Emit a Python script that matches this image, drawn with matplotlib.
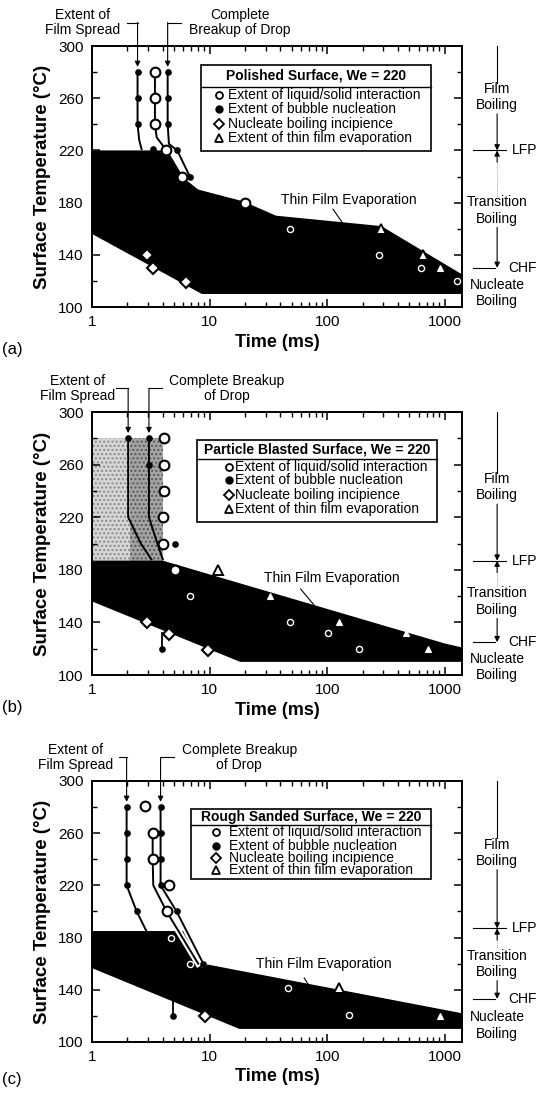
import numpy as np
import matplotlib
matplotlib.use('Agg')
import matplotlib.pyplot as plt
from matplotlib.patches import Rectangle
from matplotlib.ticker import MultipleLocator, LogLocator, NullFormatter
import matplotlib.patheffects as pe

plt.rcParams['font.family'] = ['Liberation Sans', 'DejaVu Sans']

# ---- values ----
YTICKS = [100, 140, 180, 220, 260, 300]
XTICKS = [1, 10, 100, 1000]
XTICK_LABELS = ['1', '10', '100', '1000']
LEGEND_LABELS = ['Extent of liquid/solid interaction', 'Extent of bubble nucleation',
                 'Nucleate boiling incipience', 'Extent of thin film evaporation']
TITLES = ['Polished Surface, We = 220', 'Particle Blasted Surface, We = 220',
          'Rough Sanded Surface, We = 220']
TAGS = ['(a)', '(b)', '(c)']
LFP = [220, 187, 187]
CHF = [130, 125, 133]

# (a) polished
A_TOP_X = [1, 4.2, 5.8, 8.0, 19.3, 36.7, 289, 1400]
A_TOP_Y = [220, 220, 200, 190, 181, 170, 162, 125]
A_BOT_X = [1, 8.6, 1400]
A_BOT_Y = [156, 110, 110]
A_SPREAD_X = [2.44, 2.44, 2.44, 2.52, 2.64]
A_SPREAD_Y = [280, 260, 240, 228, 221]
A_BREAK_X = [4.4, 4.4, 4.4, 4.51, 5.31, 6.79]
A_BREAK_Y = [280, 260, 240, 225, 220, 200]
A_LIQL_X = [3.43, 3.43, 3.43, 3.55, 4.3, 5.8]
A_LIQL_Y = [280, 260, 240, 230, 220, 200]
A_BUB_X = [2.44, 2.44, 2.44, 4.4, 4.4, 4.4, 3.32, 5.31, 6.79]
A_BUB_Y = [280, 260, 240, 280, 260, 240, 221, 220, 200]
A_LIQ_X = [3.43, 3.43, 3.43, 4.3, 5.8, 20]
A_LIQ_Y = [280, 260, 240, 220, 200, 180]
A_LIQIN_X = [48, 276, 628, 1259]
A_LIQIN_Y = [160, 140, 130, 120]
A_DIA_X = [2.91, 3.33, 6.3]
A_DIA_Y = [140, 130, 119]
A_TRI_X = [289, 650]
A_TRI_Y = [160, 140]
A_TRIIN_X = [912]
A_TRIIN_Y = [130]

# (b) particle blasted
B_GRAY_X = [1, 4.0]
B_DARK_X = [2.1, 4.0]
B_GRAY_Y = [187, 280]
B_TOP_X = [1, 4.0, 1000, 1400]
B_TOP_Y = [187, 187, 124, 121]
B_BOT_X = [1, 18.2, 1400]
B_BOT_Y = [156, 110, 110]
B_SPREAD_X = [2.03, 2.03, 2.03, 2.03, 2.6, 3.2]
B_SPREAD_Y = [280, 260, 240, 220, 200, 188]
B_BREAK_X = [3.05, 3.05, 3.05, 3.05, 3.6, 4.0]
B_BREAK_Y = [280, 260, 240, 220, 200, 188]
B_LIQL_X = []
B_LIQL_Y = []
B_STEM_X = [3.94, 3.94]
B_STEM_Y = [120, 132]
B_BUB_X = [2.03, 3.05, 3.05, 5.06, 3.94]
B_BUB_Y = [280, 280, 260, 200, 120]
B_LIQ_X = [4.13, 4.13, 4.13, 4.05, 4.05, 5.06]
B_LIQ_Y = [280, 260, 240, 220, 200, 180]
B_LIQIN_X = [6.76, 48, 100.7, 187.6]
B_LIQIN_Y = [160, 140, 132, 120]
B_DIA_X = [2.95, 4.51, 9.6]
B_DIA_Y = [140, 131, 119]
B_TRI_X = [11.8]
B_TRI_Y = [180]
B_TRIIN_X = [32.4, 125, 467, 724]
B_TRIIN_Y = [160, 140, 132, 120]

# (c) rough sanded
C_TOP_X = [1, 6.4, 8.8, 1400]
C_TOP_Y = [185, 185, 160, 122]
C_BOT_X = [1, 17.9, 1400]
C_BOT_Y = [156.6, 110, 110]
C_SPREAD_X = [1.97, 1.97, 1.97, 1.97, 2.4, 2.9]
C_SPREAD_Y = [280, 260, 240, 220, 200, 185]
C_BREAK_X = [3.83, 3.83, 3.83, 3.83, 5.24, 8.84]
C_BREAK_Y = [280, 260, 240, 220, 200, 160]
C_LIQL_X = [3.28, 3.28, 3.32, 4.31, 8.0]
C_LIQL_Y = [260, 240, 220, 200, 160]
C_STEM_X = [4.92, 4.92]
C_STEM_Y = [120, 140]
C_BUB_X = [1.97, 1.97, 1.97, 1.97, 2.4, 3.83, 3.83, 3.83, 3.83, 5.24, 8.84, 4.92]
C_BUB_Y = [280, 260, 240, 220, 200, 280, 260, 240, 220, 200, 160, 120]
C_LIQ_X = [2.82, 3.28, 3.28, 4.54, 4.31]
C_LIQ_Y = [281, 260, 240, 220, 200]
C_LIQIN_X = [4.66, 6.75, 46.8, 153]
C_LIQIN_Y = [180, 160, 141.5, 121]
C_DIA_X = [9.16]
C_DIA_Y = [120]
C_TRI_X = [127]
C_TRI_Y = [141]
C_TRIIN_X = [910]
C_TRIIN_Y = [120]

panels = [
    dict(top=(A_TOP_X, A_TOP_Y), bot=(A_BOT_X, A_BOT_Y), spread=(A_SPREAD_X, A_SPREAD_Y),
         brk=(A_BREAK_X, A_BREAK_Y), liql=(A_LIQL_X, A_LIQL_Y), stem=None,
         bub=(A_BUB_X, A_BUB_Y), liq=(A_LIQ_X, A_LIQ_Y), liqin=(A_LIQIN_X, A_LIQIN_Y),
         dia=(A_DIA_X, A_DIA_Y), tri=(A_TRI_X, A_TRI_Y), triin=(A_TRIIN_X, A_TRIIN_Y)),
    dict(top=(B_TOP_X, B_TOP_Y), bot=(B_BOT_X, B_BOT_Y), spread=(B_SPREAD_X, B_SPREAD_Y),
         brk=(B_BREAK_X, B_BREAK_Y), liql=(B_LIQL_X, B_LIQL_Y), stem=(B_STEM_X, B_STEM_Y),
         bub=(B_BUB_X, B_BUB_Y), liq=(B_LIQ_X, B_LIQ_Y), liqin=(B_LIQIN_X, B_LIQIN_Y),
         dia=(B_DIA_X, B_DIA_Y), tri=(B_TRI_X, B_TRI_Y), triin=(B_TRIIN_X, B_TRIIN_Y)),
    dict(top=(C_TOP_X, C_TOP_Y), bot=(C_BOT_X, C_BOT_Y), spread=(C_SPREAD_X, C_SPREAD_Y),
         brk=(C_BREAK_X, C_BREAK_Y), liql=(C_LIQL_X, C_LIQL_Y), stem=(C_STEM_X, C_STEM_Y),
         bub=(C_BUB_X, C_BUB_Y), liq=(C_LIQ_X, C_LIQ_Y), liqin=(C_LIQIN_X, C_LIQIN_Y),
         dia=(C_DIA_X, C_DIA_Y), tri=(C_TRI_X, C_TRI_Y), triin=(C_TRIIN_X, C_TRIIN_Y)),
]

# layout (figure fractions) and per-panel text placement
axes_rects = [[0.1694, 0.7191, 0.6814, 0.2388],
              [0.1694, 0.3824, 0.6814, 0.2406],
              [0.1694, 0.0467, 0.6814, 0.2388]]
legend_boxes = [(0.294, 0.916, 0.597, 0.928, 0.842, 0.344, 0.367, [0.886, 0.813, 0.759, 0.703, 0.648]),
                (0.285, 0.933, 0.581, 0.893, 0.820, 0.371, 0.387, [0.857, 0.792, 0.740, 0.686, 0.633]),
                (0.268, 0.916, 0.623, 0.893, 0.830, 0.336, 0.371, [0.862, 0.803, 0.752, 0.704, 0.657])]
top_labels = [(0.83, 'Extent of\nFilm Spread', 1.97, 2.44, 18.1, 'Complete\nBreakup of Drop', 5.67, 4.4),
              (0.75, 'Extent of\nFilm Spread', 1.6, 2.03, 13.9, 'Complete Breakup\nof Drop', 3.94, 3.05),
              (0.73, 'Extent of\nFilm Spread', 1.71, 1.97, 17.9, 'Complete Breakup\nof Drop', 4.97, 3.83)]
regime_y = [(261, 174, 111), (243, 156, 106), (245, 160, 112.6)]
tfe_labels = [(152, 182, 112, 175, 137, 163.6),
              (109, 174, 59.5, 165.4, 78, 152.8),
              (93.7, 159.6, 63.7, 149, 70.6, 142.7)]
tag_y = [0.680, 0.3525, 0.0122]

fig = plt.figure(figsize=(5.43, 10.93), dpi=100)

for i, p in enumerate(panels):
    ax = fig.add_axes(axes_rects[i])
    ax.set_xscale('log')
    ax.set_xlim(1, 1400)
    ax.set_ylim(100, 300)

    # stippled region of panel (b)
    if i == 1:
        ax.fill_between(B_GRAY_X, B_GRAY_Y[0], B_GRAY_Y[1], facecolor='#d6d6d6',
                        edgecolor='#8a8a8a', hatch='....', lw=0, zorder=0.5)
        ax.fill_between(B_DARK_X, B_GRAY_Y[0], B_GRAY_Y[1], facecolor='#a4a4a4',
                        edgecolor='#555555', hatch='....', lw=0, zorder=0.6)

    # thin film evaporation region
    tx, ty = p['top']
    bx, by = p['bot']
    ax.fill(np.r_[tx, bx[::-1]], np.r_[ty, by[::-1]], color='black', lw=0, zorder=1)

    halo = [pe.withStroke(linewidth=4.5, foreground='white')] if i == 2 else None
    for key in ('spread', 'brk', 'liql'):
        lx, ly = p[key]
        if len(lx):
            ax.plot(lx, ly, color='black', lw=1.4, zorder=3,
                    path_effects=None if key == 'spread' else halo)
    if p['stem'] is not None:
        ax.plot(*p['stem'], color='black', lw=1.3, zorder=3)

    ax.plot(*p['bub'], 'o', ms=3.8, mfc='black', mec='black', zorder=4)
    ax.plot(*p['liq'], 'o', ms=7, mfc='white', mec='black', mew=1.5, zorder=5)
    ax.plot(*p['liqin'], 'o', ms=4.4, mfc='black', mec='white', mew=1.0, zorder=5)
    ax.plot(*p['dia'], 'D', ms=6, mfc='white', mec='black', mew=1.5, zorder=5)
    ax.plot(*p['tri'], '^', ms=7.5, mfc='white', mec='black', mew=1.4, zorder=5)
    ax.plot(*p['triin'], '^', ms=5, mfc='white', mec='white', mew=0.8, zorder=5)

    # thin film label + leader
    lx0, ly0, a0, b0, a1, b1 = tfe_labels[i]
    ax.text(lx0, ly0, 'Thin Film Evaporation', fontsize=10, ha='center', va='center', zorder=6)
    ax.plot([a0, a1], [b0, b1], color='black', lw=0.8, zorder=6)

    # axes styling
    ax.set_yticks(YTICKS)
    ax.yaxis.set_minor_locator(MultipleLocator(20))
    ax.set_xticks(XTICKS, XTICK_LABELS)
    ax.xaxis.set_minor_locator(LogLocator(base=10, subs=np.arange(2, 10)))
    ax.xaxis.set_minor_formatter(NullFormatter())
    ax.tick_params(which='both', direction='in', top=True, right=True, labelsize=11)
    ax.tick_params(which='major', length=6, width=1.1, pad=6)
    ax.tick_params(which='minor', length=3.5, width=1.0)
    for s in ax.spines.values():
        s.set_linewidth(1.4)
    ax.set_xlabel('Time (ms)', fontsize=13, fontweight='bold', labelpad=3)
    ax.set_ylabel('Surface Temperature (°C)', fontsize=13.5, fontweight='bold', labelpad=5)

    # legend box
    x0, x1, y0, y1, ysep, mx, txx, rows = legend_boxes[i]
    ax.add_patch(Rectangle((x0, y0), x1 - x0, y1 - y0, transform=ax.transAxes,
                           facecolor='white', edgecolor='black', lw=1.2, zorder=7))
    ax.plot([x0, x1], [ysep, ysep], transform=ax.transAxes, color='black', lw=1.0, zorder=8)
    ax.text((x0 + x1) / 2, rows[0], TITLES[i], transform=ax.transAxes, ha='center',
            va='center', fontsize=10, fontweight='bold', zorder=8)
    styles = [dict(marker='o', ms=5, mfc='white', mec='black', mew=1.3),
              dict(marker='o', ms=5, mfc='black', mec='black'),
              dict(marker='D', ms=5.5, mfc='white', mec='black', mew=1.3),
              dict(marker='^', ms=6, mfc='white', mec='black', mew=1.3)]
    for st, lab, ry in zip(styles, LEGEND_LABELS, rows[1:]):
        ax.plot([mx], [ry], transform=ax.transAxes, ls='none', zorder=8, **st)
        ax.text(txx, ry, lab, transform=ax.transAxes, va='center', fontsize=10, zorder=8)

    # labels above the axes with bracket arrows
    fx, ftxt, fa, fb, cx, ctxt, ca, cb = top_labels[i]
    ax.text(fx, 318, ftxt, ha='center', va='center', fontsize=10, linespacing=1.15, clip_on=False)
    ax.text(cx, 318, ctxt, ha='center', va='center', fontsize=10, linespacing=1.15, clip_on=False)
    for xa, xb in ((fa, fb), (ca, cb)):
        ax.plot([xa, xb], [318, 318], color='black', lw=0.8, clip_on=False)
        ax.annotate('', xy=(xb, 284), xytext=(xb, 318), annotation_clip=False,
                    arrowprops=dict(arrowstyle='-|>', color='black', lw=0.8,
                                    mutation_scale=8, shrinkA=0, shrinkB=0))

    # boiling regimes on the right
    tr = ax.get_yaxis_transform()
    xc = 1.095
    fy, tyy, ny = regime_y[i]
    arw = dict(arrowstyle='-|>', color='black', lw=0.8, mutation_scale=8, shrinkA=0, shrinkB=0)
    ax.plot([xc, xc], [300, fy + 11], transform=tr, color='black', lw=0.8, clip_on=False)
    ax.text(xc, fy, 'Film\nBoiling', transform=tr, ha='center', va='center', fontsize=10,
            linespacing=1.2)
    ax.annotate('', xy=(xc, LFP[i]), xytext=(xc, fy - 13), xycoords=tr, textcoords=tr,
                annotation_clip=False, arrowprops=arw)
    ax.plot([1.03, 1.12], [LFP[i], LFP[i]], transform=tr, color='black', lw=0.8, clip_on=False)
    ax.text(1.135, LFP[i], 'LFP', transform=tr, va='center', fontsize=10)
    ax.annotate('', xy=(xc, LFP[i]), xytext=(xc, LFP[i] - 9), xycoords=tr, textcoords=tr,
                annotation_clip=False, arrowprops=arw)
    ax.plot([xc, xc], [LFP[i] - 9, tyy + 11], transform=tr, color='0.5', lw=0.6, ls=':',
            clip_on=False)
    ax.text(xc, tyy, 'Transition\nBoiling', transform=tr, ha='center', va='center',
            fontsize=10, linespacing=1.2)
    ax.annotate('', xy=(xc, CHF[i]), xytext=(xc, tyy - 13), xycoords=tr, textcoords=tr,
                annotation_clip=False, arrowprops=arw)
    ax.plot([1.03, 1.09], [CHF[i], CHF[i]], transform=tr, color='black', lw=0.8, clip_on=False)
    ax.text(1.125, CHF[i], 'CHF', transform=tr, va='center', fontsize=10)
    ax.text(xc, ny, 'Nucleate\nBoiling', transform=tr, ha='center', va='center', fontsize=10,
            linespacing=1.2)

    fig.text(0.004, tag_y[i], TAGS[i], fontsize=12, va='center')

fig.savefig('out.png', dpi=100)
